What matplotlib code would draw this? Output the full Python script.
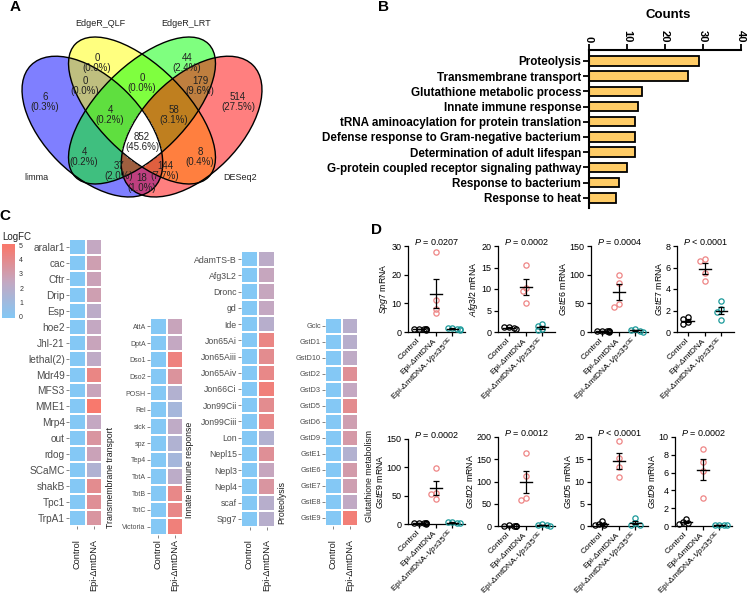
import matplotlib
matplotlib.use("Agg")
import matplotlib.pyplot as plt
import numpy as np
from matplotlib.patches import Ellipse
from matplotlib.colors import LinearSegmentedColormap

plt.rcParams["font.family"] = ["Liberation Sans", "DejaVu Sans"]
plt.rcParams["mathtext.fontset"] = "custom"
plt.rcParams["mathtext.rm"] = "Liberation Sans"
plt.rcParams["mathtext.it"] = "Liberation Sans:italic"
plt.rcParams["mathtext.bf"] = "Liberation Sans:bold"

W, H = 747, 601

# ---------------- data ----------------
# A: venn, region key = (limma, EdgeR_QLF, EdgeR_LRT, DESeq2)
venn_names = ["limma", "EdgeR_QLF", "EdgeR_LRT", "DESeq2"]
venn_regions = ["1000", "0100", "0010", "0001", "1100", "0110", "0011",
                "1110", "0111", "1111", "1010", "0101", "1011", "1101", "1001"]
venn_counts = [6, 0, 44, 514, 0, 0, 179, 4, 58, 852, 4, 8, 37, 144, 18]

# B: GO terms
go_terms = ["Proteolysis", "Transmembrane transport", "Glutathione metabolic process",
            "Innate immune response", "tRNA aminoacylation for protein translation",
            "Defense response to Gram-negative bacterium", "Determination of adult lifespan",
            "G-protein coupled receptor signaling pathway", "Response to bacterium",
            "Response to heat"]
go_counts = [29, 26, 14, 13, 12, 12, 12, 10, 8, 7]

# C: heatmaps (LogFC of Epi-dmtDNA vs control)
heat_cols = ["Control", "Epi-ΔmtDNA"]
tm_genes = ["aralar1", "cac", "Cftr", "Drip", "Esp", "hoe2", "Jhl-21", "lethal(2)", "Mdr49",
            "MFS3", "MME1", "Mrp4", "out", "rdog", "SCaMC", "shakB", "Tpc1", "TrpA1"]
tm_lfc = [2.5, 3.0, 2.8, 3.0, 2.2, 2.5, 2.7, 2.3, 4.3, 2.7, 5.0, 2.5, 3.5, 2.8, 1.7, 4.0, 3.8, 3.5]
im_genes = ["AttA", "DptA", "Dso1", "Dso2", "POSH", "Rel", "sick", "spz", "Tep4", "TotA",
            "TotB", "TotC", "Victoria"]
im_lfc = [2.7, 2.5, 4.5, 3.6, 1.8, 1.3, 2.3, 1.7, 1.3, 2.2, 4.2, 4.2, 4.6]
pr_genes = ["AdamTS-B", "Afg3L2", "Dronc", "gd", "Ide", "Jon65Ai", "Jon65Aiii", "Jon65Aiv",
            "Jon66Ci", "Jon99Cii", "Jon99Ciii", "Lon", "Nepl15", "Nepl3", "Nepl4", "scaf", "Spg7"]
pr_lfc = [2.2, 2.6, 2.6, 2.5, 2.0, 4.3, 4.0, 4.2, 4.6, 4.0, 4.2, 1.8, 3.8, 2.6, 3.5, 2.0, 2.0]
gs_genes = ["Gclc", "GstD1", "GstD10", "GstD2", "GstD3", "GstD5", "GstD6", "GstD9", "GstE1",
            "GstE6", "GstE7", "GstE8", "GstE9"]
gs_lfc = [2.0, 2.0, 2.3, 3.8, 2.5, 4.0, 3.0, 3.3, 1.8, 3.2, 3.0, 2.4, 4.7]

# D: qPCR, relative mRNA
groups = ["Control", "Epi-ΔmtDNA", r"Epi-ΔmtDNA-$\mathit{Vps35}^{\mathrm{OE}}$"]
qpcr_genes = ["Spg7", "Afg3l2", "GstE6", "GstE7", "GstE9", "GstD2", "GstD5", "GstD9"]
qpcr_p = ["= 0.0207", "= 0.0002", "= 0.0004", "< 0.0001",
          "= 0.0002", "= 0.0012", "< 0.0001", "= 0.0002"]
qpcr_ctrl = [[0.8, 1.0, 1.2, 0.9, 1.1, 1.0], [0.7, 1.0, 1.2, 1.1],
             [0.8, 1.0, 1.2, 0.9, 1.1, 1.0], [1.4, 1.2, 0.95, 0.7],
             [0.8, 1.0, 1.2, 0.9, 1.1, 1.0], [0.8, 1.0, 1.2, 0.9, 1.1, 1.0],
             [1.1, 0.3, 0.25, 0.35], [0.8, 0.4, 0.3, 0.2]]
qpcr_epi = [[28.0, 11.0, 8.0, 6.5], [15.5, 10.2, 9.5, 6.8], [100, 85, 48, 44],
            [6.8, 6.6, 5.5, 4.7], [99, 55, 53, 44], [163, 112, 62, 58],
            [19.0, 15.3, 13.3, 10.9], [8.7, 7.2, 6.2, 3.2]]
qpcr_vps = [[0.8, 1.2, 1.5, 1.0, 1.3], [0.4, 0.8, 1.3, 1.9], [3.0, 6.0, 0.5, 2.0],
            [2.9, 2.1, 1.9, 1.1], [1.5, 3.0, 4.0, 2.0], [1.0, 3.0, 2.0, 4.0],
            [1.8, 0.7, 0.3, 0.2], [0.1, 0.12, 0.08, 0.1]]
qpcr_yticks = [[0, 10, 20, 30], [0, 5, 10, 15, 20], [0, 50, 100, 150], [0, 2, 4, 6, 8],
               [0, 50, 100, 150], [0, 50, 100, 150, 200], [0, 5, 10, 15, 20],
               [0, 2, 4, 6, 8, 10]]

fig = plt.figure(figsize=(W / 100, H / 100), dpi=100)


def box(x0, y0, x1, y1):
    return [x0 / W, 1 - y1 / H, (x1 - x0) / W, (y1 - y0) / H]


def ftext(x, y, s, **kw):
    return fig.text(x / W, 1 - y / H, s, **kw)


for lab, (x, y) in zip("ABCD", [(15, 7), (383, 7), (5, 216), (377, 230)]):
    ftext(x, y, lab, fontsize=11, fontweight="bold", ha="center", va="center")

# ---------------- A: venn ----------------
axA = fig.add_axes(box(0, 14, 275, 202))
axA.set_xlim(0, 275)
axA.set_ylim(202, 14)
axA.axis("off")

# ellipses in pixel space: (cx, cy, a, b, angle)
ell = [(92.4, 126.6, 86.8, 48.7, 45), (142, 110.5, 94.1, 44.1, 45),
       (142, 110.5, 94.1, 44.1, -45), (191.6, 126.6, 86.8, 48.7, -45)]
venn_fill = ["#0000FF", "#FFFF00", "#00FF00", "#FF0000"]
for (cx, cy, a, b, ang), c in zip(ell, venn_fill):
    axA.add_patch(Ellipse((cx, cy), 2 * a, 2 * b, angle=ang, facecolor=c,
                          alpha=0.5, edgecolor="none"))

gx, gy = np.meshgrid(np.linspace(0, 275, 900), np.linspace(14, 202, 620))
inside_all = np.ones_like(gx, dtype=bool)
for cx, cy, a, b, ang in ell:
    t = np.deg2rad(ang)
    dx, dy = gx - cx, gy - cy
    u = dx * np.cos(t) + dy * np.sin(t)
    v = -dx * np.sin(t) + dy * np.cos(t)
    inside_all &= (u / a) ** 2 + (v / b) ** 2 <= 1
axA.contourf(gx, gy, inside_all.astype(float), levels=[0.5, 1.5], colors=["white"])

for cx, cy, a, b, ang in ell:
    axA.add_patch(Ellipse((cx, cy), 2 * a, 2 * b, angle=ang, facecolor="none",
                          edgecolor="black", lw=1.0))

venn_pos = {"1000": (45, 102), "0100": (97, 63), "0010": (187, 63), "0001": (238, 102),
            "1100": (85, 86), "0110": (142, 83), "0011": (200, 86), "1110": (110, 115),
            "0111": (174, 115), "1111": (142, 142), "1010": (84, 157), "0101": (200, 157),
            "1011": (119, 171), "1101": (165, 171), "1001": (142, 183)}
total = sum(venn_counts)
for key, n in zip(venn_regions, venn_counts):
    x, y = venn_pos[key]
    axA.text(x, y, f"{n}\n({100 * n / total:.1f}%)", ha="center", va="center",
             fontsize=7, color="#222222", linespacing=1.1)
for name, (x, y) in zip(venn_names, [(36, 178), (100, 24), (186, 24), (240, 178)]):
    axA.text(x, y, name, ha="center", va="center", fontsize=6.5, color="#222222")

# ---------------- B: GO bars ----------------
axB = fig.add_axes(box(589, 50, 741, 208))
axB.barh(np.arange(len(go_terms)), go_counts, height=0.62, color="#FFCC66",
         edgecolor="black", lw=1.3)
axB.set_xlim(0, 40)
axB.set_ylim(9.67, -0.72)
axB.xaxis.tick_top()
axB.set_xticks([0, 10, 20, 30, 40])
axB.set_xticklabels(["0", "10", "20", "30", "40"], rotation=270, fontweight="bold", fontsize=8)
axB.set_yticks(np.arange(len(go_terms)))
axB.set_yticklabels(go_terms, fontweight="bold", fontsize=8.4)
axB.tick_params(length=4, width=1.3, pad=1.5)
for s in ["bottom", "right"]:
    axB.spines[s].set_visible(False)
for s in ["top", "left"]:
    axB.spines[s].set_linewidth(1.5)
ftext(668, 15, "Counts", fontsize=9.5, fontweight="bold", ha="center", va="center")

# ---------------- C: heatmaps ----------------
cmap = LinearSegmentedColormap.from_list("lfc", ["#84C8F5", "#C4A8C2", "#F8796D"])

axcb = fig.add_axes(box(2, 244, 15, 318))
axcb.imshow(np.linspace(0, 5.14, 100)[:, None], cmap=cmap, vmin=0, vmax=5, aspect="auto",
            origin="lower", extent=[0, 1, -0.14, 5.14])
axcb.set_xticks([])
axcb.yaxis.tick_right()
axcb.set_yticks(range(6))
axcb.tick_params(axis="y", length=0, labelsize=5, pad=3, labelcolor="#333333")
for s in axcb.spines.values():
    s.set_visible(False)
ftext(2, 237, "LogFC", fontsize=7, ha="left", va="center", color="#222222")


def heat(x0, y0, x1, y1, genes, lfc, fs, strip, sx, sy):
    ax = fig.add_axes(box(x0, y0, x1, y1))
    z = np.column_stack([np.zeros(len(genes)), lfc])
    ax.pcolormesh(z, cmap=cmap, vmin=0, vmax=5, edgecolors="white", linewidth=0.25)
    ax.set_xlim(0, 2)
    ax.set_ylim(len(genes), 0)
    ax.set_yticks(np.arange(len(genes)) + 0.5)
    ax.set_yticklabels(genes, fontsize=fs, color="#4D4D4D")
    ax.set_xticks([0.5, 1.5])
    ax.set_xticklabels([])
    ax.tick_params(length=2, width=0.5, color="#555555", pad=1)
    for s in ax.spines.values():
        s.set_visible(False)
    cw = (x1 - x0) / 2
    for i, c in enumerate(heat_cols):
        ftext(x0 + cw * (i + 0.5), 539, c, rotation=90, ha="center", va="top",
              fontsize=6.6, color="#1A1A1A")
    ftext(sx, sy, strip, rotation=90, ha="center", va="bottom", fontsize=6.3, color="#1A1A1A")


heat(69, 239, 102, 526, tm_genes, tm_lfc, 7.3, "Transmembrane transport", 111, 528)
heat(150, 318, 183, 535, im_genes, im_lfc, 5.0, "Innate immune response", 190, 518)
heat(241, 251, 275, 527, pr_genes, pr_lfc, 6.3, "Proteolysis", 282, 524)
heat(325, 318, 358, 526, gs_genes, gs_lfc, 5.3, "Glutathione metabolism", 369, 522)

# ---------------- D: qPCR dot plots ----------------
dot_colors = ["#000000", "#EE8585", "#1A9A9A"]


def swarm(vals, ymax, hpx, unit_px, diam=4.8):
    order = np.argsort(vals)[::-1]
    placed, offs = [], np.zeros(len(vals))
    for i in order:
        y = vals[i] / ymax * hpx
        for k in [0, -1, 1, -2, 2, -3, 3]:
            x = k * diam * 0.5
            if all((x - p) ** 2 + (y - q) ** 2 >= (diam * 0.8) ** 2 for p, q in placed):
                break
        placed.append((x, y))
        offs[i] = x / unit_px
    return offs


d_boxes = [(408, 246, 465, 332), (498, 246, 555, 332), (591, 246, 648, 332),
           (677, 246, 734, 332), (408, 439, 465, 524), (498, 437, 555, 526),
           (591, 437, 648, 526), (675, 437, 732, 526)]

for k, gene in enumerate(qpcr_genes):
    x0, y0, x1, y1 = d_boxes[k]
    ax = fig.add_axes(box(x0, y0, x1, y1))
    ymax = qpcr_yticks[k][-1]
    xl = (-0.65, 2.75)
    unit_px = (x1 - x0) / (xl[1] - xl[0])
    for g, vals in enumerate([qpcr_ctrl[k], qpcr_epi[k], qpcr_vps[k]]):
        vals = np.array(vals, dtype=float)
        offs = swarm(vals, ymax, y1 - y0, unit_px)
        ax.plot(g + offs, vals, "o", ms=3.8, mfc="none", mec=dot_colors[g], mew=0.9,
                clip_on=False, zorder=3)
        m = vals.mean()
        se = vals.std(ddof=1) / np.sqrt(len(vals))
        ax.plot([g - 0.35, g + 0.35], [m, m], color="black", lw=1.0, zorder=4, clip_on=False)
        ax.errorbar([g], [m], yerr=[se], fmt="none", ecolor="black", elinewidth=0.9,
                    capsize=2, capthick=0.9, zorder=4, clip_on=False)
    ax.set_xlim(*xl)
    ax.set_ylim(0, ymax)
    ax.set_yticks(qpcr_yticks[k])
    ax.set_xticks([0, 1, 2])
    ax.set_xticklabels(groups, rotation=45, ha="right", va="center", rotation_mode="anchor",
                       fontsize=6)
    ax.tick_params(labelsize=6.5, length=3, width=0.9, pad=1.5)
    ax.tick_params(axis="x", labelsize=6, pad=2.5)
    for s in ["top", "right"]:
        ax.spines[s].set_visible(False)
    for s in ["left", "bottom"]:
        ax.spines[s].set_linewidth(0.9)
    ax.set_ylabel(r"$\mathit{" + gene + r"}$ mRNA", fontsize=6.3, labelpad=1)
    ax.annotate(r"$\mathit{P}$ " + qpcr_p[k], xy=(0.5, 1), xycoords="axes fraction",
                xytext=(0, 3), textcoords="offset points", ha="center", va="center",
                fontsize=6.5)

fig.savefig("out.png", dpi=100)
